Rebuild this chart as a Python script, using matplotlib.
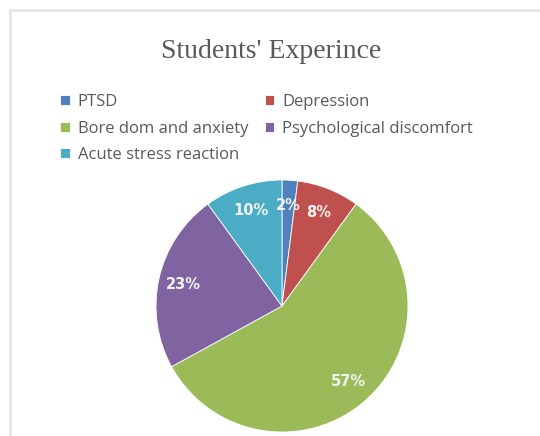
import matplotlib
matplotlib.use("Agg")
import matplotlib.pyplot as plt
from matplotlib.patches import Rectangle

# datos del gráfico
categorias = ['PTSD', 'Depression', 'Bore dom and anxiety',
              'Psychological discomfort', 'Acute stress reaction']
porcentajes = [2, 8, 57, 23, 10]
colores = ['#4F81BD', '#C0504D', '#9BBB59', '#8064A2', '#4BACC6']
titulo = "Students' Experince"

W, H = 540, 436
fig = plt.figure(figsize=(W / 100, H / 100), dpi=100)

# borde gris claro del área del gráfico
fig.add_artist(Rectangle((10 / W, -0.05), 1.0, (H - 10) / H + 0.05,
                         transform=fig.transFigure, fill=False,
                         edgecolor='#e3e3e3', linewidth=1.8))

# titulo
fig.text(271 / W, 1 - 52 / H, titulo, ha='center', va='center',
         fontsize=20, family='Liberation Serif', color='#595959')

# pie: centro (282, 306), radio 126 px
cx, cy, r = 282, 306, 126
ax = fig.add_axes([(cx - r) / W, (H - cy - r) / H, 2 * r / W, 2 * r / H])
wedges, texts, autotexts = ax.pie(
    porcentajes,
    colors=colores,
    startangle=90,
    counterclock=False,
    autopct='%1.0f%%',
    pctdistance=0.8,
    wedgeprops={'edgecolor': 'white', 'linewidth': 0.6},
)
plt.setp(autotexts, size=10.5, weight='bold', color='#f4f4f4')
ax.set_aspect('equal')
ax.set_xlim(-1, 1)
ax.set_ylim(-1, 1)

# leyenda en dos columnas, orden por filas
orden = [0, 2, 4, 1, 3]
fig.legend([wedges[i] for i in orden], [categorias[i] for i in orden],
           ncol=2, loc='upper left', bbox_to_anchor=(52 / W, 1 - 86 / H),
           frameon=False, prop={'family': 'Open Sans', 'size': 12},
           labelcolor='#595959', handlelength=0.55, handleheight=0.55,
           handletextpad=0.5, columnspacing=1.0, labelspacing=0.62,
           borderpad=0)

fig.savefig('out.png', dpi=100)
